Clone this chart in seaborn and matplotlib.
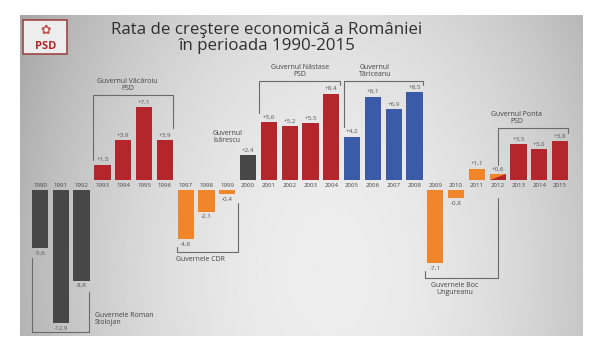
import numpy as np
import pandas as pd
import seaborn as sns
import matplotlib.pyplot as plt
from matplotlib.patches import Rectangle, Polygon

# date: rata de crestere a PIB (%)
years = list(range(1990, 2016))
growth = [-5.6, -12.9, -8.8, 1.5, 3.9, 7.1, 3.9, -4.8, -2.1, -0.4, 2.4,
          5.6, 5.2, 5.5, 8.4, 4.2, 8.1, 6.9, 8.5, -7.1, -0.8, 1.1, 0.6,
          3.5, 3.0, 3.8]
group = (["altii"] * 3 + ["psd"] * 4 + ["dreapta"] * 3 + ["altii"]
         + ["psd"] * 4 + ["pnl"] * 4 + ["dreapta"] * 4 + ["psd"] * 3)
palette = {"altii": "#474747", "psd": "#b3262c", "dreapta": "#f08529", "pnl": "#3b5ba8"}

df = pd.DataFrame({"idx": range(len(years)), "an": years, "crestere": growth, "grup": group})

sns.set_theme(style="white")
plt.rcParams["font.family"] = ["Open Sans", "DejaVu Sans"]

fig = plt.figure(figsize=(6, 3.52), dpi=100)
ax = fig.add_axes([0, 0, 1, 1])
ax.set_axis_off()

# fundal gri cu degrade
gx = np.linspace(0, 1, 300)
gy = np.linspace(0, 1, 160)
U, W = np.meshgrid(gx, gy)
grad = 0.93 - 0.22 * ((U - 0.55) / 0.55) ** 2 - 0.10 * (W - 0.8) ** 2
ax.imshow(grad, extent=[-0.96, 26.1, -15.1, 16.0], aspect="auto",
          cmap="gray", vmin=0, vmax=1, zorder=0)

sns.barplot(data=df, x="idx", y="crestere", hue="grup", palette=palette,
            native_scale=True, dodge=False, legend=False, saturation=1,
            width=0.78, linewidth=0, ax=ax, zorder=2)

gap = 0.97
for p in ax.patches:
    if p.get_height() < 0:
        p.set_y(-gap)
    cx = p.get_x() + p.get_width() / 2
    if abs(cx - years.index(2012)) < 0.1:
        x0, y0 = p.get_x(), p.get_y()
        x1, y1 = x0 + p.get_width(), y0 + p.get_height()
        ax.add_patch(Polygon([(x0, y0), (x1, y0), (x1, y1)], closed=True,
                             color=palette["psd"], lw=0, zorder=2.5))

for i, (yr, v) in enumerate(zip(years, growth)):
    lab = ("+" if v > 0 else "") + f"{v:.1f}".replace(".", ",")
    if v > 0:
        ax.text(i, v + 0.25, lab, ha="center", va="bottom", fontsize=4.5, color="#555555")
    else:
        ax.text(i, -gap + v - 0.25, lab, ha="center", va="top", fontsize=4.5, color="#555555")
    ax.text(i, -gap / 2, str(yr), ha="center", va="center", fontsize=4.4, color="#444444")

# paranteze guverne
def bracket(x0, x1, y, yl, yr):
    ax.plot([x0, x0, x1, x1], [yl, y, y, yr], color="#6a6a6a", lw=0.8, zorder=3)

txt = dict(fontsize=5, color="#444444", linespacing=1.0)
bracket(2.55, 6.4, 8.25, 1.94, 5.05)
ax.text(4.2, 8.55, "Guvernul Văcăroiu\nPSD", ha="center", va="bottom", **txt)
bracket(10.55, 14.4, 9.6, 6.5, 9.2)
ax.text(12.5, 9.9, "Guvernul Năstase\nPSD", ha="center", va="bottom", **txt)
bracket(14.6, 18.4, 9.6, 5.15, 9.2)
ax.text(16.1, 9.9, "Guvernul\nTăriceanu", ha="center", va="bottom", **txt)
bracket(22.0, 25.4, 5.05, 1.46, 4.6)
ax.text(22.9, 5.35, "Guvernul Ponta\nPSD", ha="center", va="bottom", **txt)
ax.text(9.0, 3.5, "Guvernul\nIsărescu", ha="center", va="bottom", **txt)

bracket(6.59, 9.5, -7.0, -6.5, -2.2)
ax.text(6.55, -7.35, "Guvernele CDR", ha="left", va="top", **txt)
bracket(-0.38, 2.37, -14.76, -7.6, -10.9)
ax.text(2.64, -12.8, "Guvernele Roman\nStolojan", ha="left", va="top", **txt)
bracket(18.5, 22.0, -9.5, -8.8, -1.75)
ax.text(19.95, -9.9, "Guvernele Boc\nUngureanu", ha="center", va="top", **txt)

# titlu
ax.text(10.9, 14.56, "Rata de creştere economică a României", ha="center", va="center",
        fontsize=12.2, color="#2f2f2f")
ax.text(10.9, 13.0, "în perioada 1990-2015", ha="center", va="center",
        fontsize=12.2, color="#2f2f2f")

# sigla PSD
ax.add_patch(Rectangle((-0.8, 12.25), 2.12, 3.3, facecolor="#ededed",
                       edgecolor="#9c4744", lw=1.2, zorder=3))
ax.text(0.26, 12.95, "PSD", ha="center", va="center", fontsize=8, fontweight="bold",
        color="#b3262c", zorder=4)
ax.text(0.26, 14.55, "✿", ha="center", va="center", fontsize=9, color="#c0504d",
        family=["DejaVu Sans"], zorder=4)

ax.set_xlim(-1.923, 26.92)
ax.set_ylim(-16.70, 17.48)

fig.savefig("out.png", dpi=100)
